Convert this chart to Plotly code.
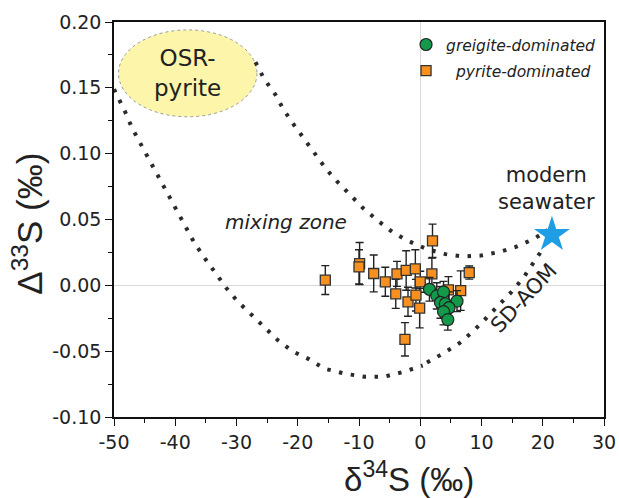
import plotly.graph_objects as go

# ---------------- data ----------------
# pyrite-dominated samples: d34S, D33S, 2-sigma error
pyr_x = [-15.5, -9.9, -10.0, -7.6, -5.7, -3.8, -4.0, -2.3, -2.0, -0.8, -0.7, 0.0, -0.1, -2.5, 2.0, 1.9, 6.6, 8.0, 4.6]
pyr_y = [0.004, 0.0165, 0.014, 0.009, 0.0027, 0.0087, -0.0065, 0.0113, -0.0125, 0.0125, -0.0075, 0.0027, -0.0173, -0.041, 0.0338, 0.0087, -0.004, 0.0097, -0.0034]
pyr_err = [0.011, 0.016, 0.013, 0.014, 0.011, 0.0095, 0.011, 0.015, 0.011, 0.0145, 0.012, 0.008, 0.015, 0.0127, 0.0127, 0.012, 0.015, 0.005, 0.01]

# greigite-dominated samples
gre_x = [1.5, 2.7, 3.8, 3.3, 4.1, 6.0, 4.7, 3.8, 4.5]
gre_y = [-0.003, -0.008, -0.005, -0.013, -0.014, -0.012, -0.017, -0.020, -0.026]
gre_err = [0.009, 0.010, 0.008, 0.012, 0.010, 0.008, 0.012, 0.010, 0.008]

# model curves (dotted)
lower_x = [-50, -49.5, -48.2, -47.0, -45, -43, -41, -39, -36.85, -35.1, -33.35, -31.6, -29.9, -27.87, -25.6, -23.2, -20.7, -18.2, -15.7, -12.2, -9.0, -5.8, -2.7, 0.4]
lower_y = [0.149, 0.1447, 0.132, 0.119, 0.102, 0.085, 0.067, 0.05, 0.032, 0.0201, 0.0082, -0.0024, -0.0118, -0.0211, -0.0317, -0.0419, -0.0505, -0.056, -0.0632, -0.0672, -0.0695, -0.0693, -0.0657, -0.0609]

upper_x = [-26.9, -25.5, -23.7, -22.3, -20.6, -18.8, -17.0, -15.35, -13.5, -11.5, -9.3, -6.9, -4.57, -2.0, 1.1, 4.1, 7.07, 9.9, 12.8, 15.5, 18.5, 20.8]
upper_y = [0.1695, 0.1568, 0.1452, 0.1333, 0.1217, 0.110, 0.0981, 0.0882, 0.0785, 0.0685, 0.0585, 0.049, 0.0406, 0.0338, 0.0275, 0.0237, 0.0219, 0.0226, 0.0252, 0.029, 0.0351, 0.042]

sd_x = [1.1, 3.9, 6.4, 8.7, 10.7, 12.8, 14.9, 16.9, 18.6, 20.1]
sd_y = [-0.0586, -0.0513, -0.0439, -0.0346, -0.0252, -0.0156, -0.005, 0.0062, 0.0181, 0.0283]

# modern seawater
sw_x = [21.5]
sw_y = [0.0384]

# OSR-pyrite field (ellipse bounds)
osr_x = [-49.26, -26.66]
osr_y = [0.128, 0.194]

# ticks
x_ticks = [-50, -40, -30, -20, -10, 0, 10, 20, 30]
x_ticktext = ["-50", "-40", "-30", "-20", "-10", "0", "10", "20", "30"]
x_minor = [-45, -35, -25, -15, -5, 5, 15, 25]
y_ticks = [-0.10, -0.05, 0.00, 0.05, 0.10, 0.15, 0.20]
y_ticktext = ["-0.10", "-0.05", "0.00", "0.05", "0.10", "0.15", "0.20"]
y_minor = [-0.075, -0.025, 0.025, 0.075, 0.125, 0.175]

# ---------------- figure ----------------
FONT = "DejaVu Sans"
dot_line = dict(color="#2b2b2b", width=4, dash="3.5px,8.5px")

fig = go.Figure()

for cx, cy in [(lower_x, lower_y), (upper_x, upper_y), (sd_x, sd_y)]:
    fig.add_trace(go.Scatter(x=cx, y=cy, mode="lines", line=dot_line,
                             showlegend=False, hoverinfo="skip"))

fig.add_trace(go.Scatter(
    x=pyr_x, y=pyr_y, mode="markers", name="\u00a0\u00a0pyrite-dominated",
    legendgroup="p", legendrank=2,
    marker=dict(symbol="square", size=10, color="#f7901e",
                line=dict(color="#333333", width=1.3)),
    error_y=dict(type="data", array=pyr_err, color="#222222", thickness=1.4, width=4),
))
fig.add_trace(go.Scatter(
    x=gre_x, y=gre_y, mode="markers", name="greigite-dominated",
    legendgroup="g", legendrank=1,
    marker=dict(symbol="circle", size=12, color="#129a4a",
                line=dict(color="#222222", width=1.2)),
    error_y=dict(type="data", array=gre_err, color="#222222", thickness=1.4, width=4),
))
fig.add_trace(go.Scatter(
    x=sw_x, y=sw_y, mode="markers", showlegend=False,
    marker=dict(symbol="star", size=27, color="#1f9ee6", line=dict(width=0)),
))

fig.add_shape(type="circle", xref="x", yref="y",
              x0=osr_x[0], x1=osr_x[1], y0=osr_y[0], y1=osr_y[1],
              fillcolor="#fcf5aa", line=dict(color="#999999", width=1, dash="dot"),
              layer="below")

tc = "#222222"
fig.add_annotation(x=(osr_x[0] + osr_x[1]) / 2, y=(osr_y[0] + osr_y[1]) / 2, xref="x", yref="y",
                   text="OSR-<br>pyrite", showarrow=False,
                   font=dict(family=FONT, size=23, color=tc))
fig.add_annotation(x=-22.0, y=0.048, xref="x", yref="y", text="mixing zone",
                   showarrow=False, font=dict(family=FONT, size=20, color=tc, style="italic"))
fig.add_annotation(x=20.6, y=0.0735, xref="x", yref="y", text="modern<br>seawater",
                   showarrow=False, font=dict(family=FONT, size=21, color=tc))
fig.add_annotation(x=16.9, y=-0.0095, xref="x", yref="y", text="SD-AOM",
                   showarrow=False, textangle=-47,
                   font=dict(family=FONT, size=21, color=tc))

# axis titles
fig.add_annotation(x=0.602, y=-0.152, xref="paper", yref="paper",
                   text="δ<sup>34</sup>S (‰)", showarrow=False,
                   xanchor="center", yanchor="middle",
                   font=dict(family="Liberation Sans", size=33, color=tc))
fig.add_annotation(x=-0.175, y=0.49, xref="paper", yref="paper",
                   text="Δ<sup>33</sup>S (‰)", showarrow=False, textangle=-90,
                   xanchor="center", yanchor="middle",
                   font=dict(family="Liberation Sans", size=35, color=tc))

axis_common = dict(
    automargin=False,
    ticks="outside", ticklen=7, tickwidth=1.3, tickcolor="#111111",
    showline=True, linecolor="#111111", linewidth=1.5, mirror=True,
    showgrid=False, zeroline=True, zerolinecolor="#d9d9d9", zerolinewidth=1,
    tickfont=dict(family=FONT, size=19, color=tc),
)

fig.update_xaxes(range=[-50, 30], tickmode="array", tickvals=x_ticks, ticktext=x_ticktext,
                 minor=dict(tickmode="array", tickvals=x_minor, ticks="outside", ticklen=4,
                            tickwidth=1.2, tickcolor="#111111", showgrid=False),
                 **axis_common)
fig.update_yaxes(range=[-0.10, 0.20], tickmode="array", tickvals=y_ticks, ticktext=y_ticktext,
                 minor=dict(tickmode="array", tickvals=y_minor, ticks="outside", ticklen=4,
                            tickwidth=1.2, tickcolor="#111111", showgrid=False),
                 **axis_common)

fig.update_layout(
    width=619, height=498,
    margin=dict(l=114, r=15, t=22, b=81, autoexpand=False),
    plot_bgcolor="white", paper_bgcolor="white",
    legend=dict(x=0.596, y=0.985, xanchor="left", yanchor="top",
                traceorder="grouped", tracegroupgap=3,
                bgcolor="rgba(0,0,0,0)",
                font=dict(family=FONT, size=15.5, color=tc, style="italic")),
)

fig.write_html("out.html")
